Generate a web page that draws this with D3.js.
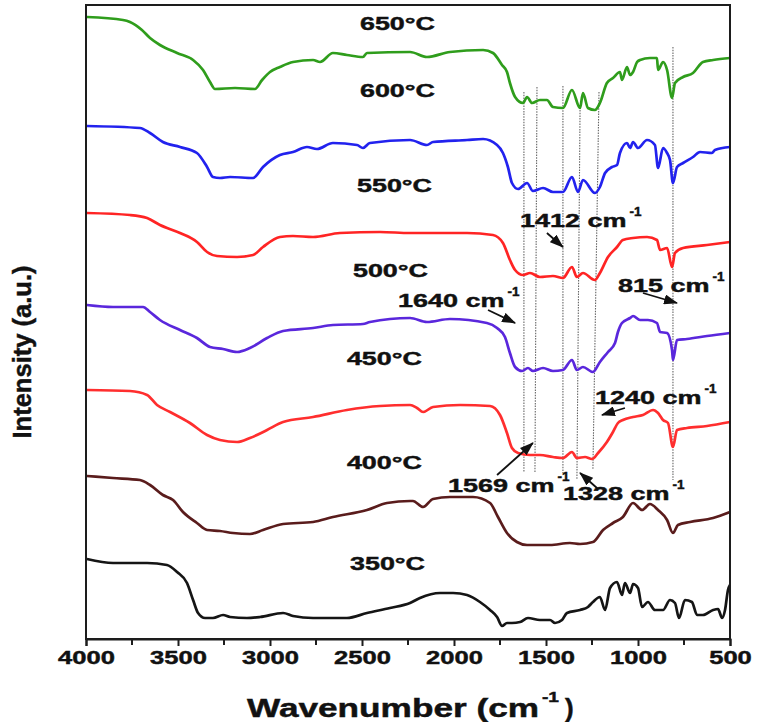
<!DOCTYPE html>
<html>
<head>
<meta charset="utf-8">
<script src="https://cdn.jsdelivr.net/npm/d3@7"></script>
<style>
  html, body { margin: 0; padding: 0; background: #fff; }
  svg { display: block; }
  text { font-family: "Liberation Sans", Arial, sans-serif; font-weight: bold; fill: #111; stroke: #111; stroke-width: 0.45px; }
</style>
</head>
<body>
<svg id="chart" width="759" height="722"></svg>
<script>
// ---------------- DATA ----------------
const temperatures = ["650°C", "600°C", "550°C", "500°C", "450°C", "400°C", "350°C"];
const seriesColors = ["#2f9d1c", "#2222ee", "#ff2424", "#5a27dc", "#ff2e2e", "#5a1c1c", "#151515"];

// [wavenumber (cm-1), intensity (a.u., offset)]
const spec650 = [[3995,622],[3799,619],[3761,617],[3696,609],[3652,601],[3598,594],[3505,586],[3418,579],[3364,569],[3326,557],[3299,550],[3190,551],[3082,550],[3043,559],[3000,567],[2946,572],[2875,577],[2766,579],[2728,577],[2658,586],[2582,584],[2495,582],[2473,586],[2239,587],[2147,582],[2022,587],[1842,589],[1788,586],[1739,574],[1712,567],[1696,556],[1668,542],[1625,536],[1603,542],[1576,536],[1533,539],[1495,539],[1462,532],[1408,531],[1359,549],[1315,531],[1299,546],[1272,531],[1234,529],[1207,536],[1169,556],[1136,561],[1098,567],[1087,559],[1060,572],[1043,564],[1027,567],[1005,577],[989,579],[935,581],[897,581],[891,569],[864,577],[842,569],[815,541],[799,556],[755,562],[701,566],[647,577],[592,579],[500,581]];
const spec600 = [[3995,513],[3707,511],[3652,506],[3582,497],[3489,492],[3397,486],[3342,472],[3310,462],[3272,461],[3217,462],[3092,461],[3038,472],[2946,484],[2875,487],[2799,492],[2745,490],[2658,496],[2527,494],[2495,491],[2457,496],[2239,499],[2147,494],[2114,497],[1929,499],[1842,500],[1766,494],[1734,486],[1707,472],[1685,456],[1652,450],[1603,456],[1571,448],[1516,451],[1462,447],[1408,447],[1359,462],[1326,447],[1299,459],[1234,446],[1207,452],[1179,466],[1141,472],[1114,474],[1098,486],[1060,496],[1043,491],[1027,497],[1000,491],[951,499],[908,494],[891,471],[864,491],[842,486],[826,479],[810,456],[788,472],[755,476],[701,482],[663,487],[598,486],[582,489],[500,492]];
const spec550 = [[3995,426],[3761,424],[3668,421],[3598,414],[3489,406],[3397,397],[3342,387],[3288,383],[3179,382],[3092,384],[3038,392],[2946,402],[2875,403],[2766,402],[2620,406],[2402,407],[2239,406],[1929,406],[1788,404],[1734,396],[1696,379],[1668,369],[1625,364],[1587,366],[1533,362],[1462,363],[1408,361],[1359,372],[1332,362],[1299,366],[1234,359],[1207,366],[1163,382],[1114,392],[1082,399],[1027,401],[951,402],[897,399],[880,389],[842,391],[815,372],[799,386],[755,391],[625,394],[500,397]];
const spec500 = [[3995,334],[3853,332],[3690,332],[3652,327],[3598,319],[3489,309],[3397,301],[3326,292],[3255,290],[3179,287],[3109,291],[3016,301],[2929,308],[2766,311],[2658,314],[2495,315],[2457,317],[2239,321],[2147,317],[2022,320],[1821,316],[1766,311],[1723,302],[1696,286],[1668,272],[1630,268],[1598,271],[1571,268],[1516,271],[1462,268],[1408,269],[1359,279],[1332,269],[1299,272],[1245,267],[1207,277],[1163,287],[1125,296],[1109,307],[1087,316],[1043,321],[1027,323],[989,319],[946,319],[897,316],[880,307],[842,306],[815,289],[810,279],[788,299],[734,300],[625,303],[500,306]];
const spec450 = [[3995,249],[3761,248],[3668,244],[3614,234],[3543,227],[3435,216],[3342,204],[3272,199],[3179,197],[3109,201],[3016,209],[2929,217],[2766,222],[2582,229],[2402,233],[2239,234],[2201,231],[2168,227],[2114,232],[1967,234],[1804,233],[1750,224],[1712,206],[1685,191],[1652,186],[1587,184],[1533,184],[1462,182],[1408,181],[1359,187],[1332,181],[1288,182],[1250,180],[1217,186],[1169,197],[1136,207],[1109,216],[1082,219],[1027,222],[973,224],[918,229],[891,226],[864,219],[837,216],[810,192],[788,209],[734,211],[625,213],[500,217]];
const spec400 = [[3995,163],[3853,161],[3707,159],[3652,154],[3582,144],[3527,139],[3473,127],[3397,116],[3342,109],[3272,108],[3201,106],[3109,105],[3038,109],[2929,115],[2766,117],[2658,122],[2473,129],[2364,136],[2239,138],[2223,138],[2168,132],[2114,140],[2022,142],[1897,142],[1804,136],[1761,122],[1712,106],[1658,97],[1603,94],[1478,94],[1370,96],[1315,95],[1245,97],[1190,109],[1136,116],[1082,122],[1027,136],[978,129],[935,135],[891,129],[842,119],[810,106],[783,114],[717,117],[592,121],[500,127]];
const spec350 = [[3995,80],[3853,76],[3668,76],[3560,74],[3505,67],[3451,56],[3418,39],[3391,26],[3353,21],[3310,21],[3255,24],[3217,22],[3125,21],[3054,22],[2929,26],[2875,23],[2766,21],[2582,21],[2473,26],[2348,31],[2239,36],[2185,41],[2076,46],[2005,46],[1929,44],[1859,37],[1804,29],[1766,22],[1739,13],[1712,16],[1685,16],[1641,17],[1598,21],[1533,19],[1478,19],[1451,16],[1413,19],[1386,26],[1315,29],[1272,32],[1245,37],[1207,42],[1179,29],[1152,51],[1114,57],[1087,44],[1071,56],[1043,46],[1027,55],[1000,51],[978,32],[946,37],[908,29],[864,29],[826,39],[799,36],[777,21],[745,39],[707,37],[679,24],[647,24],[592,29],[565,30],[543,21],[527,29],[511,49],[500,54]];
const spectra = [spec650, spec600, spec550, spec500, spec450, spec400, spec350];

// temperature label anchor (text start wavenumber, intensity at text centre)
const labelWn = [2511, 2511, 2527, 2549, 2582, 2582, 2565];
const labelI  = [616, 549, 454, 369, 281, 177, 76];

// x-axis ticks
const majorTicks = [4000, 3500, 3000, 2500, 2000, 1500, 1000, 500];
const minorTicks = [3750, 3250, 2750, 2250, 1750, 1250, 750];

// dotted reference lines (top / bottom wavenumber and intensity)
const refTopWn = [1620, 1549, 1408, 1315, 1212, 810];
const refBotWn = [1620, 1560, 1408, 1332, 1245, 810];
const refTopI  = [547, 552, 553, 529, 547, 592];
const refBotI  = [167, 167, 166, 159, 170, 159];

// peak annotations
const annText   = ["1412 cm", "815 cm", "1640 cm", "1240 cm", "1569 cm", "1328 cm"];
const annWn     = [1641, 1109, 2304, 1234, 2033, 1408];
const annI      = [419, 354, 339, 242, 154, 146];
const arrowFrom = [[1495,406],[973,346],[1815,329],[1071,231],[1766,164],[1223,151]];
const arrowTo   = [[1408,392],[788,336],[1668,316],[1196,224],[1571,196],[1315,166]];

// ---------------- DRAW ----------------
const svg = d3.select("#chart");
const x = d3.scaleLinear().domain([4000, 500]).range([86, 730]);
const y = d3.scaleLinear().domain([0, 634]).range([639, 5]);

const defs = svg.append("defs");
defs.append("marker")
  .attr("id", "ah").attr("markerUnits", "userSpaceOnUse")
  .attr("markerWidth", 14).attr("markerHeight", 10)
  .attr("refX", 13).attr("refY", 5).attr("orient", "auto")
  .append("path").attr("d", "M0,0 L14,5 L0,10 Z").attr("fill", "#111");

// dotted reference lines
svg.append("g").selectAll("line").data(refTopWn).join("line")
  .attr("x1", (d, i) => x(d)).attr("y1", (d, i) => y(refTopI[i]))
  .attr("x2", (d, i) => x(refBotWn[i])).attr("y2", (d, i) => y(refBotI[i]))
  .attr("stroke", "#666").attr("stroke-width", 1.1)
  .attr("stroke-dasharray", "1.5,1.2");

// spectra
const line = d3.line().x(d => x(d[0])).y(d => y(d[1])).curve(d3.curveMonotoneX);
svg.append("g").selectAll("path").data(spectra).join("path")
  .attr("d", line).attr("fill", "none")
  .attr("stroke", (d, i) => seriesColors[i])
  .attr("stroke-width", 2.7).attr("stroke-linejoin", "round");

// frame
svg.append("rect").attr("x", 86).attr("y", 5).attr("width", 644).attr("height", 634)
  .attr("fill", "none").attr("stroke", "#1d1d1d").attr("stroke-width", 2);

// x axis
const xAxis = d3.axisBottom(x).tickValues(majorTicks).tickSize(7).tickFormat(d3.format("d"));
const gx = svg.append("g").attr("transform", "translate(0,639)").call(xAxis);
gx.select(".domain").attr("stroke", "#1d1d1d").attr("stroke-width", 2);
gx.selectAll(".tick line").attr("stroke", "#1d1d1d").attr("stroke-width", 2);
gx.selectAll(".tick text").attr("font-size", 19).attr("font-family", "Liberation Sans, Arial, sans-serif")
  .attr("font-weight", "bold").attr("fill", "#111").attr("y", 12).attr("dy", "0.71em")
  .each(function(d) { const s = String(d); d3.select(this).attr("textLength", 14.2 * s.length).attr("lengthAdjust", "spacingAndGlyphs"); });
svg.append("g").selectAll("line").data(minorTicks).join("line")
  .attr("x1", d => x(d)).attr("x2", d => x(d)).attr("y1", 639).attr("y2", 645)
  .attr("stroke", "#1d1d1d").attr("stroke-width", 2);

// x title
const xt = svg.append("g");
xt.append("text").attr("x", 247).attr("y", 717).attr("font-size", 26)
  .attr("textLength", 292).attr("lengthAdjust", "spacingAndGlyphs").text("Wavenumber (cm");
xt.append("text").attr("x", 542).attr("y", 702).attr("font-size", 15)
  .attr("textLength", 17).attr("lengthAdjust", "spacingAndGlyphs").text("-1");
xt.append("text").attr("x", 565).attr("y", 717).attr("font-size", 26).text(")");

// y title
svg.append("text").attr("transform", "translate(31,352) rotate(-90)")
  .attr("text-anchor", "middle").attr("font-size", 26)
  .attr("textLength", 173).attr("lengthAdjust", "spacingAndGlyphs")
  .text("Intensity (a.u.)");

// temperature labels
svg.append("g").selectAll("text").data(temperatures).join("text")
  .attr("x", (d, i) => x(labelWn[i])).attr("y", (d, i) => y(labelI[i]))
  .attr("dy", "0.36em").attr("font-size", 19)
  .attr("textLength", 75).attr("lengthAdjust", "spacingAndGlyphs")
  .text(d => d);

// annotations
const ann = svg.append("g");
annText.forEach((t, i) => {
  const tx = x(annWn[i]), ty = y(annI[i]);
  const main = ann.append("text").attr("x", tx).attr("y", ty).attr("dy", "0.36em")
    .attr("font-size", 19).text(t);
  const natural = main.node().getComputedTextLength();
  const len = natural * 1.42;
  main.attr("textLength", len).attr("lengthAdjust", "spacingAndGlyphs");
  ann.append("text").attr("x", tx + len + 3).attr("y", ty - 4)
    .attr("font-size", 13).attr("textLength", 12).attr("lengthAdjust", "spacingAndGlyphs").text("-1");
  ann.append("line")
    .attr("x1", x(arrowFrom[i][0])).attr("y1", y(arrowFrom[i][1]))
    .attr("x2", x(arrowTo[i][0])).attr("y2", y(arrowTo[i][1]))
    .attr("stroke", "#111").attr("stroke-width", 1.8).attr("marker-end", "url(#ah)");
});
</script>
</body>
</html>
